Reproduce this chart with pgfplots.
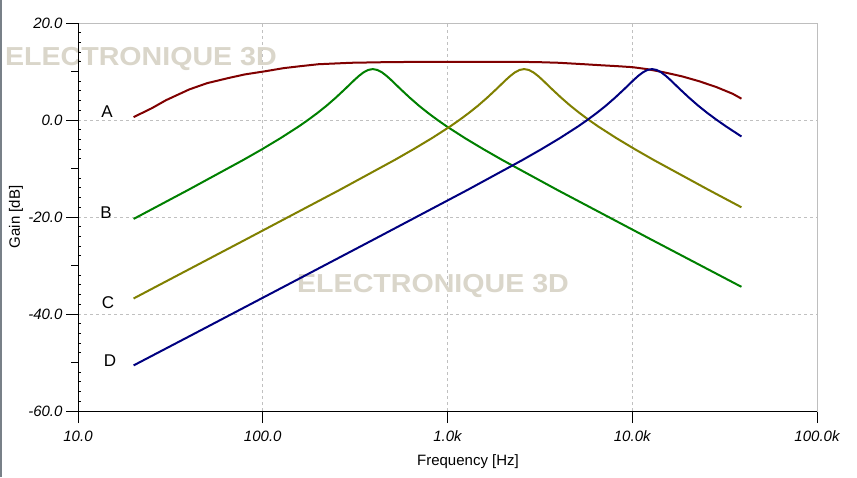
\documentclass[border=0pt]{standalone}
\usepackage{pgfplots}
\pgfplotsset{compat=1.18}
\usepackage{graphicx}
\usepackage{fontspec}
\setmainfont{Liberation Sans}
\definecolor{cA}{RGB}{128,0,0}
\definecolor{cB}{RGB}{0,128,0}
\definecolor{cC}{RGB}{128,128,0}
\definecolor{cD}{RGB}{0,0,128}
\definecolor{gridgray}{RGB}{192,192,192}
\definecolor{boxgray}{RGB}{190,190,190}
\definecolor{wm}{RGB}{218,214,202}
\begin{document}
\begin{tikzpicture}
\path[use as bounding box] (0,0) rectangle (857pt,477pt);
\fill[white] (0,0) rectangle (857pt,477pt);
\draw[color={rgb,255:red,120;green,128;blue,136}, line width=2pt] (1pt,0) -- (1pt,477pt);
\begin{axis}[
  at={(78pt,66pt)}, anchor=south west, scale only axis,
  width=739pt, height=388pt,
  xmode=log, log basis x=10,
  xmin=10, xmax=100000, ymin=-60, ymax=20,
  xtick={10,100,1000,10000,100000},
  xticklabels={10.0,100.0,1.0k,10.0k,100.0k},
  ytick={-60,-40,-20,0,20},
  yticklabels={-60.0,-40.0,-20.0,0.0,20.0},
  tick pos=left, tick align=outside,
  major tick length=12pt, minor tick length=6pt,
  tick style={black, line width=1pt},
  xmajorgrids, xminorgrids, ymajorgrids,
  grid style={draw=gridgray, dash pattern=on 3pt off 3pt, line width=1pt},
  axis line style={draw=boxgray, line width=1pt},
  tick label style={font=\fontsize{15}{15}\selectfont\itshape},
  xticklabel style={yshift=-4pt},
  clip=false,
]
\node[text=wm, font=\fontsize{26}{26}\selectfont\bfseries] at (axis cs:21.9,12.6) {\scalebox{1.1}[1]{ELECTRONIQUE 3D}};
\node[text=wm, font=\fontsize{26}{26}\selectfont\bfseries] at (axis cs:835,-34.3) {\scalebox{1.1}[1]{ELECTRONIQUE 3D}};
\addplot[cA, line width=2pt] coordinates {
(20,0.6)(25,2.4)(30,4.1)(40,6.3)(50,7.6)(66,8.7)(80,9.4)(105,10.1)(130,10.7)(160,11.1)(200,11.5)(300,11.8)(500,11.95)(1000,12.0)(2000,12.0)(3000,11.95)(4000,11.8)(5500,11.5)(6700,11.3)(8300,11.1)(10000,10.9)(12000,10.5)(15000,9.8)(18600,9.0)(23000,8.0)(28500,6.8)(35000,5.4)(39000,4.4)
};
\addplot[cB, line width=2pt] coordinates {
(20,-20.4)(39.4,-14.44)(78.6,-8.22)(99.0,-6.04)(124.6,-3.76)(156.9,-1.31)(176.0,0.02)(197.5,1.43)(221.6,2.95)(248.6,4.61)(278.9,6.39)(313.0,8.23)(331.5,9.09)(351.2,9.82)(371.9,10.32)(394,10.5)(417.4,10.32)(442.1,9.82)(468.3,9.09)(496.0,8.23)(556.5,6.39)(624.5,4.61)(700.6,2.95)(786.1,1.43)(882.0,0.02)(989.7,-1.31)(1246,-3.76)(1568.6,-6.04)(1974.7,-8.22)(3940,-14.44)(12459,-24.5)(39000,-34.4)
};
\addplot[cC, line width=2pt] coordinates {
(20,-36.8)(26,-34.51)(82.2,-24.5)(260,-14.44)(518.8,-8.22)(653.1,-6.04)(822.2,-3.76)(1035.1,-1.31)(1161.4,0.02)(1303.1,1.43)(1462.1,2.95)(1640.5,4.61)(1840.7,6.39)(2065.3,8.23)(2187.6,9.09)(2317.3,9.82)(2454.5,10.32)(2600,10.5)(2754.2,10.32)(2917.2,9.82)(3090.1,9.09)(3273.1,8.23)(3672.5,6.39)(4120.7,4.61)(4623.6,2.95)(5187.8,1.43)(5820.6,0.02)(6530.9,-1.31)(8222,-3.76)(10351,-6.04)(13031,-8.22)(26000,-14.44)(39000,-18.0)
};
\addplot[cD, line width=2pt] coordinates {
(20,-50.6)(40.5,-44.5)(128,-34.51)(405,-24.5)(1280,-14.44)(2553.9,-8.22)(3215.2,-6.04)(4047.7,-3.76)(5095.7,-1.31)(5717.6,0.02)(6415.1,1.43)(7197.9,2.95)(8076.2,4.61)(9061.9,6.39)(10167.6,8.23)(10769.9,9.09)(11408.2,9.82)(12083.5,10.32)(12800,10.5)(13559,10.32)(14361.6,9.82)(15212.8,9.09)(16113.9,8.23)(18080,6.39)(20286.7,4.61)(22762.2,2.95)(25539.8,1.43)(28655.4,0.02)(32152.3,-1.31)(39000,-3.4)
};
\end{axis}
% black left/bottom axis lines and medium y ticks
\begin{axis}[
  at={(78pt,66pt)}, anchor=south west, scale only axis,
  width=739pt, height=388pt,
  xmode=log, xmin=10, xmax=100000, ymin=-60, ymax=20,
  axis x line*=bottom, axis y line*=left,
  axis line style={black, line width=1pt, -},
  xtick=\empty, ytick={-50,-30,-10,10}, yticklabels={},
  tick align=outside, major tick length=7pt,
  tick style={black, line width=1pt},
]
\end{axis}
% small inside y ticks every 2 dB
\begin{axis}[
  at={(78pt,66pt)}, anchor=south west, scale only axis,
  width=739pt, height=388pt,
  xmode=log, xmin=10, xmax=100000, ymin=-60, ymax=20,
  axis line style={draw=none},
  xtick=\empty, ytick pos=left,
  ytick={-58,-56,-54,-52,-48,-46,-44,-42,-38,-36,-34,-32,-28,-26,-24,-22,-18,-16,-14,-12,-8,-6,-4,-2,2,4,6,8,12,14,16,18},
  yticklabels={},
  tick align=inside, major tick length=3pt,
  tick style={black, line width=1pt},
]
\end{axis}
\node[font=\fontsize{17}{17}\selectfont] at (107pt,365pt) {A};
\node[font=\fontsize{17}{17}\selectfont] at (106pt,264pt) {B};
\node[font=\fontsize{17}{17}\selectfont] at (108pt,174pt) {C};
\node[font=\fontsize{17}{17}\selectfont] at (110pt,116pt) {D};
\node[font=\fontsize{15}{15}\selectfont] at (468pt,15pt) {Frequency [Hz]};
\node[font=\fontsize{15}{15}\selectfont, rotate=90] at (16pt,260pt) {Gain [dB]};
\end{tikzpicture}
\end{document}
